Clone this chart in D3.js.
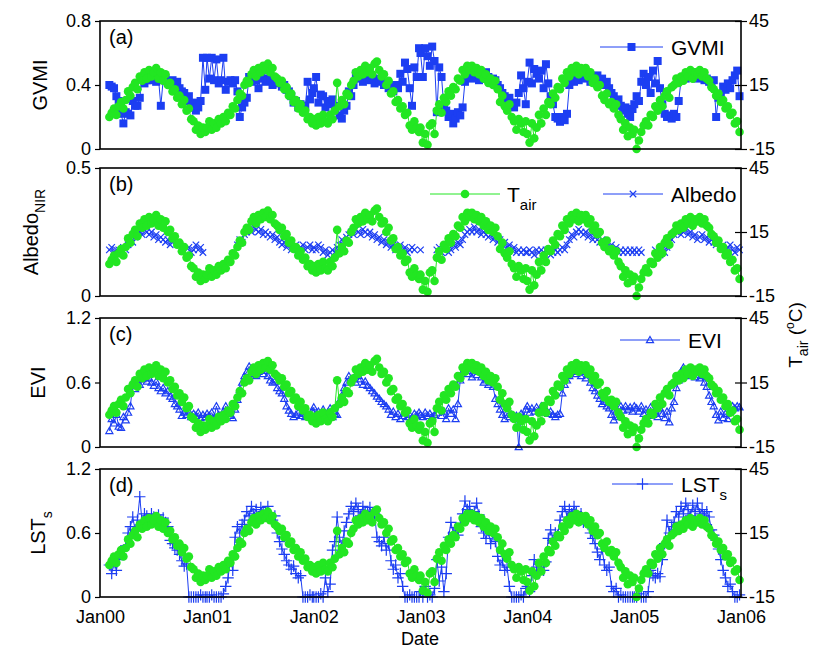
<!DOCTYPE html>
<html>
<head>
<meta charset="utf-8">
<script src="https://cdn.jsdelivr.net/npm/d3@7"></script>
<style>
  body { margin: 0; background: #fff; }
  svg { font-family: Arial, "Liberation Sans", sans-serif; }
</style>
</head>
<body>
<svg id="chart" width="814" height="649"></svg>
<script>
// 8 天合成数据，2000 年从第 33 天开始（MODIS），其余年份 46 期
const years = [2000, 2001, 2002, 2003, 2004, 2005];
const xTickLabels = ["Jan00", "Jan01", "Jan02", "Jan03", "Jan04", "Jan05", "Jan06"];

// 气温 (°C)，四个子图共用
const tair = [
  0,2,4,1,5,7,4,8,12,10, 14,16,13,19,17,21,18,22,19,21, 23,18,21,17,20,15,16,12,13,9, 10,6,8,3,4,-1,-2,-6,-4,-8, -5,-7,
  -5,-2,-6,-3,-5,-1,-3,0,-2,2, 1,5,4,8,11,10,15,17,16,20, 22,19,23,21,24,22,25,21,23,19, 18,16,17,13,14,10,11,7,8,4, 6,2,3,-1,0,-3,
  -1,-4,0,-3,1,-2,-3,1,-1,3, 16,5,8,6,11,10,15,17,21,19, 22,20,24,21,23,20,25,26,22,19, 20,15,17,11,12,7,8,4,5,1, 2,-4,-6,-2,-5,-7,
  -5,-12,-8,-13,-4,-3,-8,3,6,2, 9,7,12,10,14,13,18,17,22,20, 24,22,24,21,23,20,22,18,20,16, 18,15,17,13,7,10,5,3,6,0, -2,-6,-1,-3,-7,-2,
  -8,-12,-3,-10,-5,1,-3,4,1,7, 6,11,9,14,13,18,16,21,19,23, 21,24,20,23,21,23,19,21,16,18, 14,15,10,8,11,6,7,4,6,1, -1,-6,-3,-9,-5,-8,
  -6,-15,-11,-7,-4,-2,-4,1,0,5, 3,8,5,10,12,9,14,15,18,16, 19,17,21,19,22,18,21,20,22,19, 21,18,17,14,13,10,11,7,8,4, 5,1,2,-3,-2,-7
];

const gvmi = [
  .40,.39,.38,.33,.30,.22,.16,.23,.22,.21, .30,.27,.27,.32,.45,.41,.43,.44,.43,.45, .42,.44,.27,.43,.44,.42,.41,.43,.40,.42, .38,.36,.35,.30,.33,.26,.29,.24,.26,.30, .57,.37,
  .57,.44,.57,.43,.56,.41,.43,.57,.37,.42, .43,.41,.43,.36,.20,.26,.29,.32,.45,.42, .44,.43,.38,.45,.44,.42,.44,.43,.40,.44, .42,.41,.39,.40,.37,.36,.33,.29,.30,.26, .28,.25,.27,.42,.31,.35,
  .38,.45,.29,.34,.33,.26,.30,.28,.31,.25, .27,.21,.19,.24,.27,.36,.33,.40,.47,.44, .45,.42,.46,.44,.43,.45,.41,.44,.42,.43, .40,.41,.38,.39,.36,.40,.38,.47,.42,.54, .50,.38,.27,.51,.45,.63,
  .60,.45,.63,.58,.52,.64,.55,.23,.51,.45, .26,.24,.20,.22,.16,.19,.23,.21,.26,.42, .45,.48,.44,.47,.45,.43,.46,.44,.48,.45, .43,.44,.43,.40,.38,.35,.33,.30,.32,.28, .26,.29,.35,.46,.38,.28,
  .42,.54,.41,.50,.47,.44,.49,.38,.53,.41, .33,.28,.20,.19,.17,.20,.18,.22,.40,.44, .42,.46,.43,.48,.45,.44,.47,.42,.45,.43, .46,.41,.44,.40,.42,.38,.35,.33,.29,.31, .27,.24,.26,.22,.20,.25,
  .28,.33,.30,.42,.47,.40,.45,.35,.49,.41, .55,.38,.28,.22,.20,.21,.19,.22,.20,.30, .43,.45,.44,.47,.46,.48,.45,.44,.46,.45, .43,.44,.42,.41,.43,.20,.32,.33,.39,.37, .41,.38,.43,.46,.49,.33
];

// 近红外反照率，null 为缺测
const albedo = [
  .18,.19,.17,.18,.18,.17,.19,.18,.20,.22, .21,.23,.24,.25,.24,.26,.25,.24,.25,.23, .24,.22,.23,.22,.21,.22,.20,.21,null,null, null,null,null,null,.19,.17,.18,.20,.18,.19, .17,null,
  null,null,null,null,null,null,null,null,null,null, null,null,null,.20,.22,.21,.24,.25,.26,.25, .27,.26,.25,.26,.24,.25,.24,.23,.24,.22, .23,.21,.20,.21,.19,.20,.18,.19,.20,.18, .19,.20,.18,.19,.20,.18,
  .19,.18,.20,.19,.17,.18,.16,.17,.18,.17, .19,.20,.22,.21,.23,.24,.25,.24,.26,.25, .24,.26,.25,.24,.25,.23,.24,.22,.23,.21, .22,.20,.21,.19,.20,.18,.19,.20,.18,.19, .17,.18,.19,.18,null,null,
  .18,null,null,null,null,null,null,.18,.19,.17, .18,.19,.17,.18,.20,.19,.21,.20,.22,.24, .25,.26,.25,.27,.25,.26,.24,.25,.24,.23, .24,.22,.23,.21,.22,.20,.21,.19,.20,.18, .19,.17,.18,.17,.18,.17,
  .17,.18,.17,.16,.18,.17,.18,.17,.18,.17, .16,.17,.18,.17,.18,.19,.18,.20,.22,.24, .23,.25,.26,.25,.24,.25,.23,.24,.22,.23, .22,.21,.22,.20,.21,.19,.20,.18,.19,.17, .18,.17,.18,.17,.18,.17,
  .18,.17,.18,.17,null,null,null,null,null,.18, .17,.16,.18,.17,.19,.21,.22,.24,.25,.26, .24,.25,.26,.24,.25,.23,.24,.22,.23,.24, .22,.23,.21,.22,.21,.20,.21,.19,.20,.18, .19,.20,.18,.17,.19,.18
];

const evi = [
  .15,.26,.22,.30,.19,.18,.28,.25,.32,.38, .60,.54,.62,.58,.63,.66,.61,.64,.60,.57, .61,.55,.52,.55,.50,.52,.47,.45,.40,.38, .35,.29,.32,.30,.33,.28,.31,.29,.32,.27, .30,.28,
  .31,.29,.32,.27,.38,.30,.29,.33,.38,.31, .29,.27,.35,.44,.53,.60,.66,.70,.75,.68, .72,.66,.70,.73,.68,.71,.66,.62,.60,.61, .55,.52,.50,.45,.38,.34,.31,.28,.30,.32, .29,.31,.28,.30,.29,.33,
  .37,.30,.33,.27,.35,.29,.32,.36,.28,.31, .30,.43,.48,.55,.60,.66,.62,.64,.60,.66, .63,.58,.61,.57,.55,.52,.50,.47,.45,.42, .40,.38,.35,.30,.33,.28,.31,.26,.29,.32, .28,.30,.27,.31,.29,.32,
  .30,.28,.32,.29,.31,.28,.30,.32,.37,.29, .33,.26,.36,.31,.35,.26,.40,.62,.70,.73, .68,.71,.65,.72,.67,.70,.65,.60,.62,.58, .60,.56,.45,.40,.35,.30,.26,.32,.28,.30, .27,.29,0,.31,.28,.35,
  .38,.32,.36,.33,.37,.34,.38,.32,.35,.31, .33,.30,.28,.30,.31,.50,.58,.62,.66,.70, .73,.68,.71,.66,.70,.64,.67,.60,.55,.52, .48,.45,.40,.42,.38,.36,.30,.25,.33,.28, .38,.34,.38,.35,.37,.33,
  .38,.36,.33,.38,.31,.35,.29,.37,.30,.34, .28,.36,.31,.27,.33,.23,.36,.42,.55,.62, .70,.74,.66,.72,.68,.73,.65,.70,.64,.66, .60,.56,.48,.42,.38,.30,.25,.33,.27,.31, .26,.33,.38,.36,.38,.37
];

// 标准化地表温度 LST_s
const lst = [
  .30,.22,.32,.25,.35,.40,.44,.48,.60,.66, .75,.63,.72,.94,.70,.78,.76,.72,.78,.75, .73,.77,.72,.74,.70,.66,.53,.50,.46,.44, .40,.34,.29,.31,0,0,0,0,0,.02, 0,0,
  0,0,.02,0,0,0,0,.03,.10,.18, .35,.25,.56,.66,.60,.68,.72,.80,.76,.85, .78,.82,.75,.84,.80,.78,.85,.74,.72,.76, .60,.52,.45,.40,.34,.30,.26,.29,.22,.18, .20,0,0,0,.02,0,
  0,0,0,.03,0,.18,.05,.12,.44,.52, .75,.56,.48,.62,.70,.78,.85,.80,.88,.82, .76,.85,.80,.78,.84,.75,.78,.56,.52,.48, .56,.44,.50,.34,.26,.30,.18,.22,.10,0, 0,.02,0,0,0,0,
  .05,0,.10,0,.02,0,.08,.35,.15,.28, .05,.22,.56,.70,.60,.65,.58,.68,.78,.90, .82,.85,.75,.80,.88,.77,.66,.60,.55,.62, .50,.58,.52,.38,.30,.34,.25,.28,.10,0, 0,0,0,.02,0,.08,
  .10,.05,.20,.35,.28,.22,.30,.25,.33,.55, .63,.53,.60,.58,.72,.80,.85,.75,.82,.78, .85,.80,.72,.78,.70,.74,.68,.60,.55,.50, .42,.35,.45,.30,.25,.28,.10,.05,.08,0, .02,0,0,0,0,0,
  0,0,.03,0,0,0,.05,.25,.20,.18, .22,.19,.35,.50,.72,.60,.66,.70,.80,.75, .85,.78,.88,.82,.76,.86,.80,.88,.78,.82, .76,.80,.75,.63,.58,.53,.45,.35,.25,.18, .10,.12,.05,0,0,.02
];

const dates = [];
years.forEach(y => {
  for (let i = (y === 2000 ? 4 : 0); i < 46; i++) dates.push(new Date(y, 0, 1 + 8 * i));
});

const GREEN = "#22e622";
const BLUE = "#1c3ef2";

// 自定义线型符号
const plusSym = { draw(ctx, size) { const r = Math.sqrt(size) / 2; ctx.moveTo(-r, 0); ctx.lineTo(r, 0); ctx.moveTo(0, -r); ctx.lineTo(0, r); } };
const timesSym = { draw(ctx, size) { const r = Math.sqrt(size) / 2; ctx.moveTo(-r, -r); ctx.lineTo(r, r); ctx.moveTo(r, -r); ctx.lineTo(-r, r); } };
const triSym = { draw(ctx, size) { const r = Math.sqrt(size) / 2; ctx.moveTo(0, -r); ctx.lineTo(r, r * 0.75); ctx.lineTo(-r, r * 0.75); ctx.closePath(); } };

const markers = {
  square: { type: d3.symbolSquare, size: 64, fill: BLUE, stroke: "none" },
  times: { type: timesSym, size: 42, fill: "none", stroke: BLUE },
  tri: { type: triSym, size: 50, fill: "none", stroke: BLUE },
  plus: { type: plusSym, size: 130, fill: "none", stroke: BLUE }
};

const panels = [
  { tag: "(a)", top: 21, bottom: 149, max: 0.8, ticks: [0, 0.4, 0.8], values: gvmi, marker: "square",
    title: ["GVMI", ""], titleX: 47, legend: { x1: 600, x2: 663, y: 47, text: "GVMI", sub: "" } },
  { tag: "(b)", top: 168, bottom: 296, max: 0.5, ticks: [0, 0.5], values: albedo, marker: "times",
    title: ["Albedo", "NIR"], titleX: 38, legend: { x1: 603, x2: 663, y: 194, text: "Albedo", sub: "" }, tairLegend: true },
  { tag: "(c)", top: 318, bottom: 447, max: 1.2, ticks: [0, 0.6, 1.2], values: evi, marker: "tri",
    title: ["EVI", ""], titleX: 45, legend: { x1: 620, x2: 680, y: 340, text: "EVI", sub: "" } },
  { tag: "(d)", top: 469, bottom: 597, max: 1.2, ticks: [0, 0.6, 1.2], values: lst, marker: "plus",
    title: ["LST", "s"], titleX: 45, legend: { x1: 612, x2: 673, y: 484, text: "LST", sub: "s" } }
];

const svg = d3.select("#chart");
const left = 100, right = 741;
const x = d3.scaleTime().domain([new Date(2000, 0, 1), new Date(2006, 0, 1)]).range([left, right]);

function styleAxis(g, size) {
  g.select(".domain").remove();
  g.selectAll("line").attr("stroke", "#000").attr("stroke-width", 1.2);
  g.selectAll("text").attr("fill", "#000").style("font-size", size + "px")
    .style("font-family", "Arial, 'Liberation Sans', sans-serif");
}

panels.forEach((p, pi) => {
  const y = d3.scaleLinear().domain([0, p.max]).range([p.bottom, p.top]);
  const yT = d3.scaleLinear().domain([-15, 45]).range([p.bottom, p.top]);
  const g = svg.append("g");
  const pts = dates.map((d, i) => ({ d, v: p.values[i], t: tair[i] }));
  const mk = markers[p.marker];
  const sym = d3.symbol().type(mk.type).size(mk.size);

  // 蓝色序列
  g.append("path").datum(pts)
    .attr("fill", "none").attr("stroke", BLUE).attr("stroke-width", 1)
    .attr("d", d3.line().defined(d => d.v != null).x(d => x(d.d)).y(d => y(d.v)));
  g.append("g").selectAll("path")
    .data(pts.filter(d => d.v != null))
    .join("path")
    .attr("transform", d => `translate(${x(d.d)},${y(d.v)})`)
    .attr("d", sym)
    .attr("fill", mk.fill).attr("stroke", mk.stroke).attr("stroke-width", 1.2);

  // 气温（绿色）
  g.append("path").datum(pts)
    .attr("fill", "none").attr("stroke", GREEN).attr("stroke-width", 1)
    .attr("d", d3.line().x(d => x(d.d)).y(d => yT(d.t)));
  g.append("g").selectAll("circle")
    .data(pts)
    .join("circle")
    .attr("cx", d => x(d.d)).attr("cy", d => yT(d.t)).attr("r", 4.3)
    .attr("fill", GREEN);

  // 边框
  g.append("rect")
    .attr("x", left).attr("y", p.top).attr("width", right - left).attr("height", p.bottom - p.top)
    .attr("fill", "none").attr("stroke", "#000").attr("stroke-width", 1.6);

  // 左轴
  g.append("g").attr("transform", `translate(${left},0)`)
    .call(d3.axisLeft(y).tickValues(p.ticks).tickSize(5).tickPadding(4).tickFormat(d => String(d)))
    .call(a => styleAxis(a, 18));

  // 右轴（气温）
  g.append("g").attr("transform", `translate(${right},0)`)
    .call(d3.axisRight(yT).tickValues([-15, 15, 45]).tickSize(6).tickPadding(2).tickFormat(d => String(d)))
    .call(a => styleAxis(a, 18))
    .call(a => a.selectAll("line").attr("x1", -6));

  // 子图编号
  g.append("text").attr("x", 109).attr("y", p.top + 23)
    .style("font-size", "20px").text(p.tag);

  // 左侧标题
  const cy = (p.top + p.bottom) / 2;
  const tt = g.append("text")
    .attr("transform", `translate(${p.titleX},${cy}) rotate(-90)`)
    .attr("text-anchor", "middle").style("font-size", "20px");
  tt.append("tspan").text(p.title[0]);
  if (p.title[1]) tt.append("tspan").attr("dy", 7).style("font-size", "14px").text(p.title[1]);

  // 图例
  const L = p.legend;
  g.append("line").attr("x1", L.x1).attr("x2", L.x2).attr("y1", L.y).attr("y2", L.y)
    .attr("stroke", BLUE).attr("stroke-width", 1);
  g.append("path").attr("transform", `translate(${(L.x1 + L.x2) / 2},${L.y})`).attr("d", sym)
    .attr("fill", mk.fill).attr("stroke", mk.stroke).attr("stroke-width", 1.2);
  const lt = g.append("text").attr("x", L.x2 + 8).attr("y", L.y + 8).style("font-size", "21px");
  lt.append("tspan").text(L.text);
  if (L.sub) lt.append("tspan").attr("dy", 8).style("font-size", "15px").text(L.sub);

  if (p.tairLegend) {
    g.append("line").attr("x1", 430).attr("x2", 500).attr("y1", L.y).attr("y2", L.y)
      .attr("stroke", GREEN).attr("stroke-width", 1);
    g.append("circle").attr("cx", 465).attr("cy", L.y).attr("r", 4.3).attr("fill", GREEN);
    const tl = g.append("text").attr("x", 507).attr("y", L.y + 8).style("font-size", "21px");
    tl.append("tspan").text("T");
    tl.append("tspan").attr("dy", 8).style("font-size", "15px").text("air");
  }

  // 底部日期轴
  if (pi === panels.length - 1) {
    const tickDates = d3.range(2000, 2007).map(yr => new Date(yr, 0, 1));
    g.append("g").attr("transform", `translate(0,${p.bottom})`)
      .call(d3.axisBottom(x).tickValues(tickDates).tickSize(0).tickPadding(13)
        .tickFormat((d, i) => xTickLabels[i]))
      .call(a => styleAxis(a, 18));
    g.append("text").attr("x", 420).attr("y", 645).attr("text-anchor", "middle")
      .style("font-size", "18px").text("Date");
  }
});

// 右侧气温标题
const rt = svg.append("text")
  .attr("transform", "translate(802,335) rotate(-90)")
  .attr("text-anchor", "middle").style("font-size", "19px");
rt.append("tspan").text("T");
rt.append("tspan").attr("dy", 6).style("font-size", "14px").text("air");
rt.append("tspan").attr("dy", -6).text(" (");
rt.append("tspan").attr("dy", -8).style("font-size", "12px").text("o");
rt.append("tspan").attr("dy", 8).text("C)");
</script>
</body>
</html>
